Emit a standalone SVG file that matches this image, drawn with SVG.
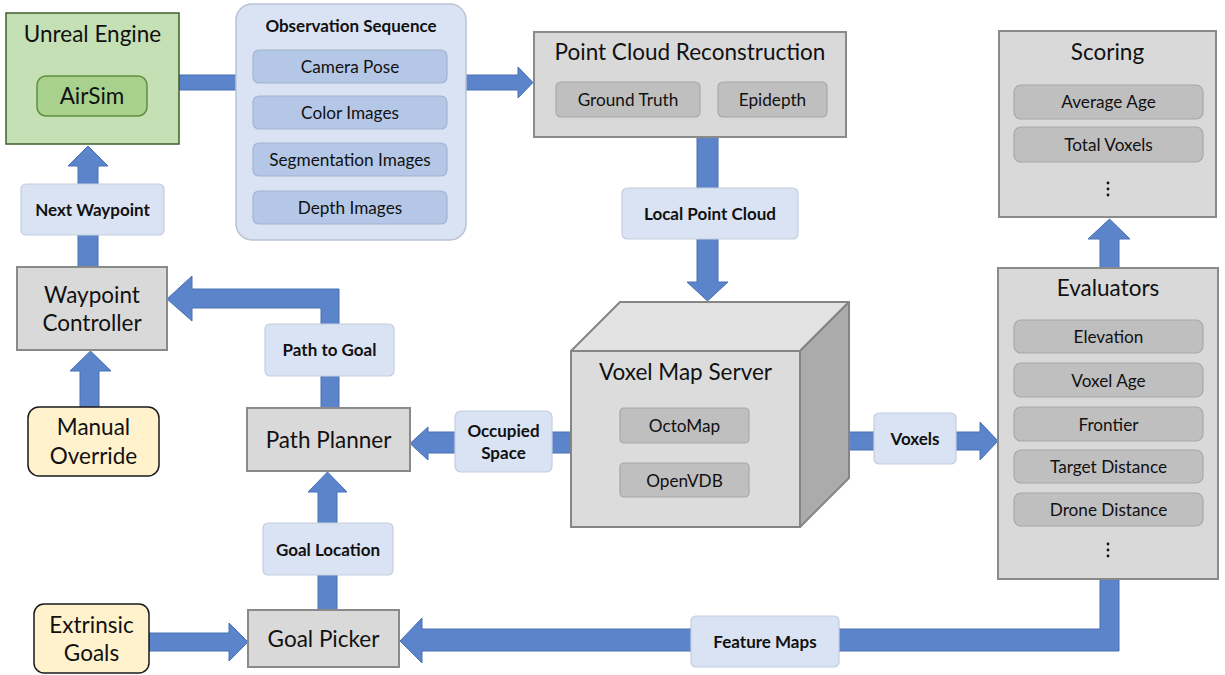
<svg xmlns="http://www.w3.org/2000/svg" width="1225" height="675" viewBox="0 0 1225 675">
<style>
text{font-family:Lato,"Liberation Sans",sans-serif;fill:#111;text-anchor:middle;dominant-baseline:central}
.t{font-size:22.5px}
.i{font-size:17.2px}
.b{font-size:17px;font-weight:bold}
.gray{fill:#d9d9d9;stroke:#8a8a8a;stroke-width:2}
.item{fill:#bfbfbf;stroke:#a8a8a8;stroke-width:1.2}
.bitem{fill:#b4c7e7;stroke:#a3b4d0;stroke-width:1.2}
.lbl{fill:#dae3f3;stroke:#c3cde0;stroke-width:1.2}
.arr{fill:#5b84cb;stroke:#4a70b4;stroke-width:1}
.yel{fill:#fff2cc;stroke:#1a1a1a;stroke-width:1.5}
.dot{fill:#111}
</style>
<rect width="1225" height="675" fill="#fff"/>
<g id="connectors">
<rect class="arr" x="179" y="75" width="58" height="15"/>
<path class="arr" d="M466,75 H518 V67 L533,82.5 L518,98 V90 H466 Z"/>
<path class="arr" d="M697,137 H718 V282 H728 L707.5,301 L687,282 H697 Z"/>
<path class="arr" d="M571,432 V453 H428 V460 L410,443.5 L428,427 V432 Z"/>
<path class="arr" d="M848,432 H980 V422 L998,441 L980,460 V450 H848 Z"/>
<path class="arr" d="M1100,268 V239 H1088 L1109.5,219 L1130,239 H1119 V268 Z"/>
<path class="arr" d="M1100,579 H1119 V651 H422 V663 L400,641 L422,618 V629 H1100 Z"/>
<path class="arr" d="M318,610 V492 H308 L327.5,472 L347,492 H337 V610 Z"/>
<path class="arr" d="M149,633 H229 V623 L248,642 L229,661 V651 H149 Z"/>
<path class="arr" d="M339,408 H321 V308 H192 V321 L167,299 L192,276 V289 H339 Z"/>
<path class="arr" d="M80,407 V371 H70 L90.5,351 L111,371 H99 V407 Z"/>
<path class="arr" d="M78,267 V166 H68 L88,146 L108,166 H98 V267 Z"/>
</g>
<g id="unreal">
<rect x="6" y="13" width="173" height="131" fill="#c5e0b4" stroke="#3f5e2a" stroke-width="1.5"/>
<text class="t" x="92.5" y="33">Unreal Engine</text>
<rect x="37" y="76" width="110" height="40" rx="9" fill="#a9d18e" stroke="#5f8f3e" stroke-width="1.5"/>
<text class="t" x="92" y="95">AirSim</text>
</g>
<g id="observation">
<rect x="236" y="4" width="230" height="236" rx="16" fill="#dae3f3" stroke="#b9c3d3" stroke-width="1.5"/>
<text class="b" x="351" y="25">Observation Sequence</text>
<rect class="bitem" x="253" y="50" width="194" height="33" rx="6"/>
<text class="i" x="350" y="66.5">Camera Pose</text>
<rect class="bitem" x="253" y="96" width="194" height="33" rx="6"/>
<text class="i" x="350" y="112.5">Color Images</text>
<rect class="bitem" x="253" y="143" width="194" height="33" rx="6"/>
<text class="i" x="350" y="159.5">Segmentation Images</text>
<rect class="bitem" x="253" y="191" width="194" height="33" rx="6"/>
<text class="i" x="350" y="207.5">Depth Images</text>
</g>
<g id="pointcloud">
<rect class="gray" x="534" y="32" width="312" height="105"/>
<text class="t" x="690" y="51">Point Cloud Reconstruction</text>
<rect class="item" x="556" y="82" width="144" height="35" rx="5"/>
<text class="i" x="628" y="99">Ground Truth</text>
<rect class="item" x="718" y="82" width="109" height="35" rx="5"/>
<text class="i" x="772.5" y="99">Epidepth</text>
</g>
<g id="lbl-local">
<rect class="lbl" x="622" y="188" width="176" height="51" rx="5"/>
<text class="b" x="710" y="213.5">Local Point Cloud</text>
</g>
<g id="scoring">
<rect class="gray" x="999" y="31" width="217" height="186"/>
<text class="t" x="1107.5" y="51">Scoring</text>
<rect class="item" x="1014" y="85" width="189" height="34" rx="7"/>
<text class="i" x="1108.5" y="101.5">Average Age</text>
<rect class="item" x="1014" y="127" width="189" height="35" rx="7"/>
<text class="i" x="1108.5" y="144">Total Voxels</text>
<circle class="dot" cx="1108" cy="183" r="1.4"/>
<circle class="dot" cx="1108" cy="189" r="1.4"/>
<circle class="dot" cx="1108" cy="195" r="1.4"/>
</g>
<g id="voxelmap">
<polygon points="571,351 620,302 849,302 800,351" fill="#e3e3e3" stroke="#858585" stroke-width="2" stroke-linejoin="round"/>
<polygon points="800,351 849,302 849,478 800,527" fill="#ababab" stroke="#858585" stroke-width="2" stroke-linejoin="round"/>
<rect x="571" y="351" width="229" height="176" fill="#dcdcdc" stroke="#858585" stroke-width="2"/>
<text class="t" x="685.5" y="371">Voxel Map Server</text>
<rect class="item" x="620" y="408" width="129" height="35" rx="4"/>
<text class="i" x="684.5" y="425.5">OctoMap</text>
<rect class="item" x="620" y="463" width="129" height="34" rx="4"/>
<text class="i" x="684.5" y="480">OpenVDB</text>
</g>
<g id="evaluators">
<rect class="gray" x="998" y="268" width="220" height="311"/>
<text class="t" x="1108" y="287">Evaluators</text>
<rect class="item" x="1014" y="320" width="189" height="33" rx="7"/>
<text class="i" x="1108.5" y="336.5">Elevation</text>
<rect class="item" x="1014" y="363" width="189" height="34" rx="7"/>
<text class="i" x="1108.5" y="380">Voxel Age</text>
<rect class="item" x="1014" y="407" width="189" height="34" rx="7"/>
<text class="i" x="1108.5" y="424">Frontier</text>
<rect class="item" x="1014" y="450" width="189" height="33" rx="7"/>
<text class="i" x="1108.5" y="466.5">Target Distance</text>
<rect class="item" x="1014" y="493" width="189" height="33" rx="7"/>
<text class="i" x="1108.5" y="509.5">Drone Distance</text>
<circle class="dot" cx="1108" cy="544" r="1.4"/>
<circle class="dot" cx="1108" cy="550" r="1.4"/>
<circle class="dot" cx="1108" cy="556" r="1.4"/>
</g>
<g id="lbl-voxels">
<rect class="lbl" x="874" y="413" width="82" height="51" rx="5"/>
<text class="b" x="915" y="438.5">Voxels</text>
</g>
<g id="lbl-occupied">
<rect class="lbl" x="455" y="411" width="97" height="61" rx="6"/>
<text class="b" x="503.5" y="430.5">Occupied</text>
<text class="b" x="503.5" y="452.5">Space</text>
</g>
<g id="lbl-feature">
<rect class="lbl" x="691" y="616" width="148" height="51" rx="5"/>
<text class="b" x="765" y="641.5">Feature Maps</text>
</g>
<g id="pathplanner">
<rect class="gray" x="247" y="408" width="163" height="63"/>
<text class="t" x="328.5" y="439">Path Planner</text>
</g>
<g id="lbl-pathgoal">
<rect class="lbl" x="265" y="324" width="129" height="52" rx="5"/>
<text class="b" x="329.5" y="349.5">Path to Goal</text>
</g>
<g id="lbl-goalloc">
<rect class="lbl" x="263" y="523" width="130" height="52" rx="5"/>
<text class="b" x="328" y="549">Goal Location</text>
</g>
<g id="goalpicker">
<rect class="gray" x="248" y="610" width="151" height="57"/>
<text class="t" x="323.5" y="638">Goal Picker</text>
</g>
<g id="extrinsic">
<rect class="yel" x="34" y="604" width="115" height="69" rx="10"/>
<text class="t" x="91.5" y="624">Extrinsic</text>
<text class="t" x="91.5" y="652">Goals</text>
</g>
<g id="waypoint">
<rect class="gray" x="17" y="267" width="150" height="83"/>
<text class="t" x="92" y="294">Waypoint</text>
<text class="t" x="92" y="322">Controller</text>
</g>
<g id="manual">
<rect class="yel" x="28" y="407" width="131" height="69" rx="11"/>
<text class="t" x="93.5" y="426">Manual</text>
<text class="t" x="93.5" y="455">Override</text>
</g>
<g id="lbl-nextwp">
<rect class="lbl" x="21" y="184" width="143" height="51" rx="5"/>
<text class="b" x="92.5" y="209.5">Next Waypoint</text>
</g>
</svg>
